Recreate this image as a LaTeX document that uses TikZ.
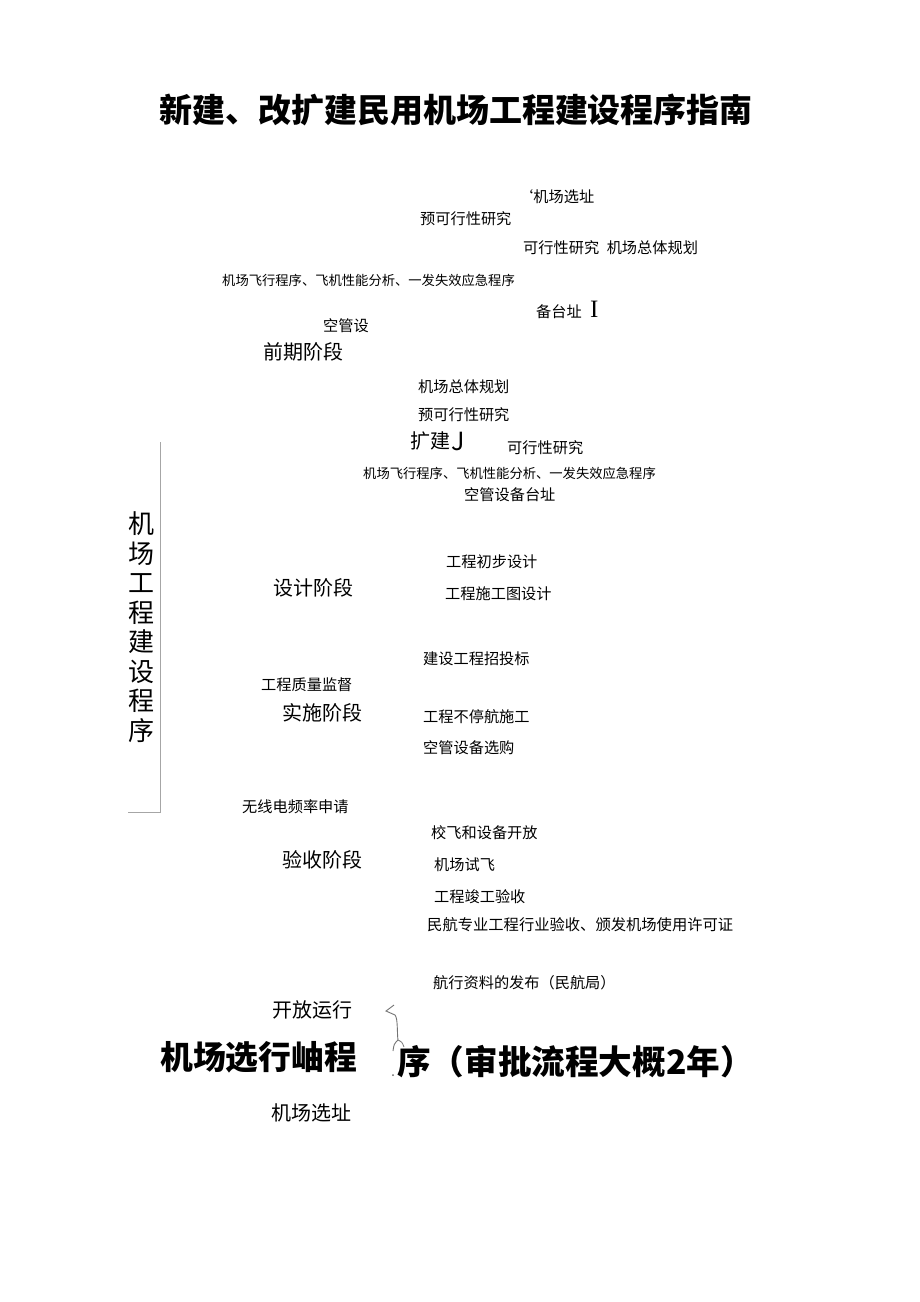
\documentclass[tikz,border=0pt]{standalone}
\usepackage{fontspec}
\setmainfont{Noto Sans CJK SC}
\newfontfamily\latinserif{Liberation Serif}
\usetikzlibrary{positioning}

\tikzset{
  item/.style={anchor=west, inner sep=0pt, font=\fontsize{15.2}{17}\selectfont},
  smallitem/.style={anchor=west, inner sep=0pt, font=\fontsize{13.3}{15}\selectfont},
  phase/.style={anchor=west, inner sep=0pt, font=\fontsize{20}{22}\selectfont},
  bigtitle/.style={anchor=west, inner sep=0pt, font=\fontsize{32.8}{36}\selectfont\bfseries},
  rule/.style={draw=black!35, line width=1pt}
}

\begin{document}
\begin{tikzpicture}[x=1pt, y=-1pt]
  \useasboundingbox (0,0) rectangle (920,1302);

  % title
  \node[bigtitle, anchor=center, font=\fontsize{33}{36}\selectfont\bfseries] (title) at (456,110) {新建、改扩建民用机场工程建设程序指南};

  % early phase, new airport
  \node[item] (site1) at (518,197) {‘机场选址};
  \node[item] (prefeas1) at (420,219) {预可行性研究};
  \node[item] (feas1) at (523,248) {可行性研究\hspace{0.5em}机场总体规划};
  \node[smallitem] (flight1) at (222,280) {机场飞行程序、飞机性能分析、一发失效应急程序};
  \node[item] (spare1) at (536,312) {备台址};
  \node[phase, font=\fontsize{25}{27}\latinserif] (mark1) at (590,309) {I};
  \node[item] (atc1) at (323,326) {空管设};
  \node[phase] (early) at (263,352) {前期阶段};

  % early phase, extension
  \node[item] (plan2) at (418,387) {机场总体规划};
  \node[item] (prefeas2) at (418,415) {预可行性研究};
  \node[phase] (extend) at (410,441) {扩建};
  \node[phase, font=\fontsize{25}{27}\selectfont, right=1pt of extend] (mark2) {J};
  \node[item] (feas2) at (507,448) {可行性研究};
  \node[smallitem] (flight2) at (363,473) {机场飞行程序、飞机性能分析、一发失效应急程序};
  \node[item] (atc2) at (464,495) {空管设备台址};

  % side label
  \node[inner sep=0pt, align=center, font=\fontsize{26}{29.5}\selectfont] (side) at (141,627) {机\\场\\工\\程\\建\\设\\程\\序};
  \coordinate (ruletop) at (160,442);
  \coordinate (rulebot) at (160,812);
  \coordinate (ruleend) at (128,812);
  \draw[rule] (ruletop) -- (rulebot) -- (ruleend);

  % design phase
  \node[item] (prelim) at (446,562) {工程初步设计};
  \node[phase] (design) at (273,588) {设计阶段};
  \node[item] (drawing) at (445,594) {工程施工图设计};

  % build phase
  \node[item] (tender) at (423,659) {建设工程招投标};
  \node[item] (quality) at (261,685) {工程质量监督};
  \node[phase] (build) at (282,713) {实施阶段};
  \node[item] (nonstop) at (423,717) {工程不停航施工};
  \node[item] (purchase) at (423,748) {空管设备选购};

  % acceptance phase
  \node[item] (radio) at (242,807) {无线电频率申请};
  \node[item] (calib) at (431,833) {校飞和设备开放};
  \node[phase] (accept) at (282,860) {验收阶段};
  \node[item] (trial) at (434,865) {机场试飞};
  \node[item] (complete) at (434,897) {工程竣工验收};
  \node[item, font=\fontsize{15.3}{17}\selectfont] (licence) at (427,925) {民航专业工程行业验收、颁发机场使用许可证};

  % operation
  \node[item] (aip) at (433,983) {航行资料的发布（民航局）};
  \node[phase] (operate) at (272,1010) {开放运行};
  \node[bigtitle] (sitetitle) at (160,1057) {机场选行岫程};
  \node[bigtitle, font=\fontsize{33.6}{36}\selectfont\bfseries] (sitetitle2) at (397,1062) {序（审批流程大概2年）};
  \node[phase] (site2) at (271,1113) {机场选址};

  % brace
  \draw[black!55, line width=0.9pt] (394,1005) -- (386,1011) -- (395,1015)
    .. controls (398,1018) and (397,1034) .. (398,1040)
    .. controls (394,1044) .. (393,1051);
  \draw[black!55, line width=0.8pt] (398,1040) .. controls (402,1042) .. (404,1047);
  \fill[black!60] (393,1075) circle (1pt);
\end{tikzpicture}
\end{document}
